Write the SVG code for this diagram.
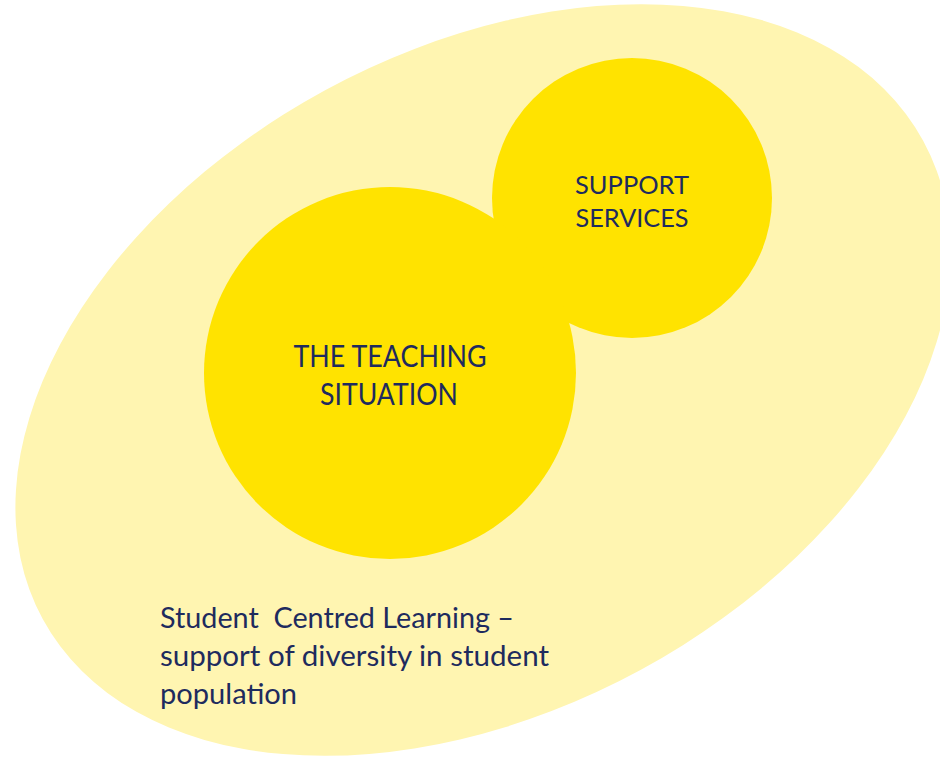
<svg xmlns="http://www.w3.org/2000/svg" width="940" height="757" viewBox="0 0 940 757">
<style>
.bg{fill:#FFF5B1}
.c{fill:#FFE300}
.t{font-family:Lato,"Liberation Sans",sans-serif;fill:#1E2B5E;white-space:pre}
</style>
<rect width="940" height="757" fill="#FFFFFF"/>
<g id="student-centred-learning">
<ellipse class="bg" cx="483" cy="380" rx="501" ry="330" transform="rotate(-28.5 483 380)"/>
<text class="t" font-size="29" x="160" y="628" textLength="354" lengthAdjust="spacingAndGlyphs" xml:space="preserve">Student  Centred Learning –</text>
<text class="t" font-size="29" x="160" y="666" textLength="389" lengthAdjust="spacingAndGlyphs">support of diversity in student</text>
<text class="t" font-size="29" x="160" y="704" textLength="137" lengthAdjust="spacingAndGlyphs">population</text>
</g>
<g id="support-services">
<circle class="c" cx="632" cy="198" r="140"/>
<text class="t" font-size="25.5" x="632" y="194" text-anchor="middle" textLength="114" lengthAdjust="spacingAndGlyphs">SUPPORT</text>
<text class="t" font-size="25.5" x="632" y="227" text-anchor="middle" textLength="113" lengthAdjust="spacingAndGlyphs">SERVICES</text>
</g>
<g id="teaching-situation">
<circle class="c" cx="390" cy="373" r="186"/>
<text class="t" font-size="30" x="390" y="367" text-anchor="middle" textLength="193" lengthAdjust="spacingAndGlyphs">THE TEACHING</text>
<text class="t" font-size="30" x="389" y="405" text-anchor="middle" textLength="138" lengthAdjust="spacingAndGlyphs">SITUATION</text>
</g>
<g id="connectors"></g>
</svg>
